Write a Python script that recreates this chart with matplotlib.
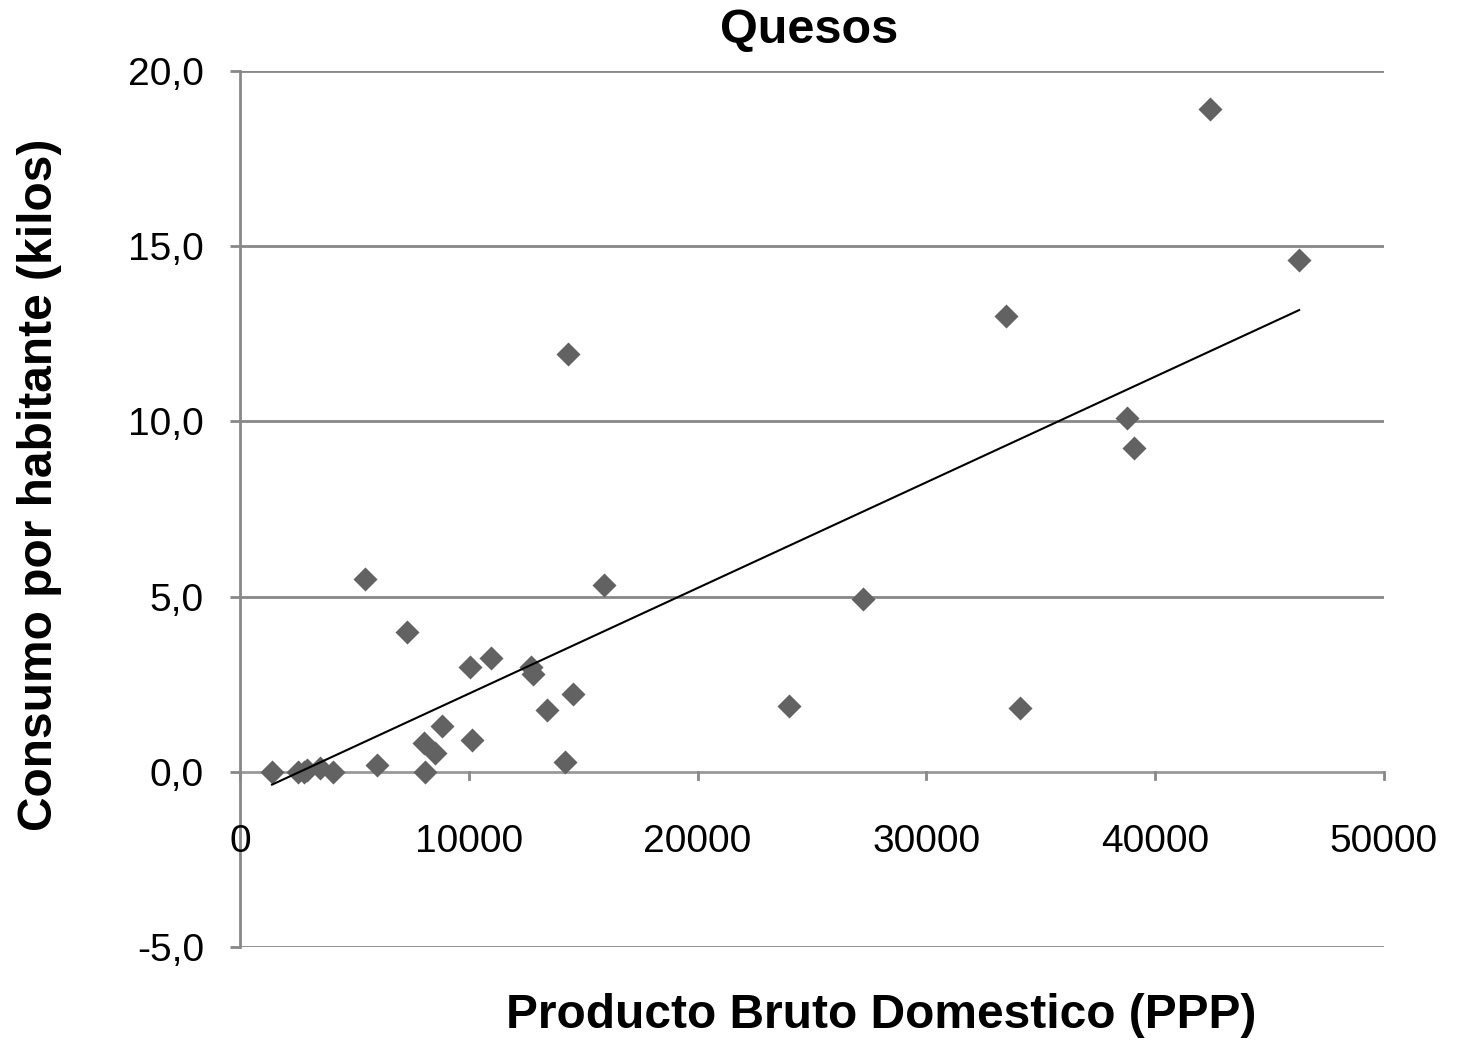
import numpy as np
import matplotlib
matplotlib.use("Agg")
import matplotlib.pyplot as plt
from matplotlib.ticker import FuncFormatter

plt.rcParams['font.family'] = ['Liberation Sans', 'DejaVu Sans']

title = "Quesos"
x_label = "Producto Bruto Domestico (PPP)"
y_label = "Consumo por habitante (kilos)"

pbi = [1400, 2540, 2800, 2930, 3500, 4070, 5460, 5990, 7300, 8080, 8040, 8520,
       8830, 10050, 10140, 10970, 12720, 12800, 13420, 14200, 14340, 14550,
       15900, 23990, 27230, 33480, 34090, 38770, 39070, 42400, 46290]
consumo = [0.0, 0.0, 0.0, 0.05, 0.1, 0.0, 5.5, 0.2, 4.0, 0.0, 0.83, 0.55,
           1.3, 3.0, 0.9, 3.25, 3.0, 2.8, 1.75, 0.28, 11.93, 2.22,
           5.34, 1.88, 4.94, 13.01, 1.83, 10.1, 9.25, 18.92, 14.61]

x_ticks = [0, 10000, 20000, 30000, 40000, 50000]
y_ticks = [-5, 0, 5, 10, 15, 20]

fig = plt.figure(figsize=(14.57, 10.41), dpi=100)
ax = fig.add_axes([240/1457, 1-947/1041, (1384-240)/1457, (947-71)/1041])

grid_c = '#888888'
ax.set_xlim(0, 50000)
ax.set_ylim(-5, 20)
for yv in y_ticks:
    if yv != 0:
        ax.axhline(yv, color=grid_c, lw=2.0, zorder=1)
ax.axhline(0, color='#999999', lw=2.0, zorder=1)

for s in ['top', 'right', 'bottom']:
    ax.spines[s].set_visible(False)
ax.spines['left'].set_color(grid_c)
ax.spines['left'].set_linewidth(2.0)

ax.set_yticks(y_ticks)
ax.yaxis.set_major_formatter(FuncFormatter(lambda v, p: f"{v:.1f}".replace('.', ',')))
ax.set_xticks(x_ticks)
ax.tick_params(axis='y', direction='out', length=7, width=2, color=grid_c,
               labelsize=28, pad=19)
ax.tick_params(axis='x', direction='out', length=0, labelsize=28, pad=0)
for xv in x_ticks:
    ax.plot([xv, xv], [0, -0.2], color=grid_c, lw=2, zorder=1, clip_on=False)
ax.set_xticklabels([])
for xv in x_ticks:
    ax.text(xv, -1.5, f"{xv}", ha='center', va='top', fontsize=28)

ax.scatter(pbi, consumo, marker='D', s=150, color='#626262', zorder=3,
           linewidths=0)

coef = np.polyfit(pbi, consumo, 1)
xl = np.array([min(pbi), max(pbi)])
ax.plot(xl, np.polyval(coef, xl), color='black', lw=1.5, zorder=4)

fig.text(809/1457, 1-30/1041, title, ha='center', va='center',
         fontsize=35, fontweight='bold')
fig.text(881/1457, 1-1015/1041, x_label, ha='center', va='center',
         fontsize=34.5, fontweight='bold')
fig.text(40/1457, 1-485/1041, y_label, ha='center', va='center',
         fontsize=34.5, fontweight='bold', rotation=90)

fig.savefig('out.png', dpi=100)
